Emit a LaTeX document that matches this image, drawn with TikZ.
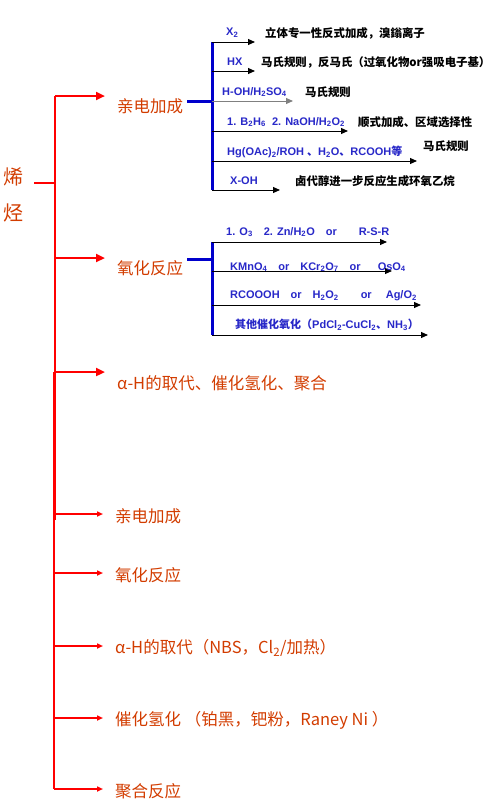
\documentclass[tikz,border=0pt]{standalone}
\usepackage{fontspec}
\setmainfont{Liberation Sans}
\newfontfamily\cjk{Noto Sans CJK SC}
\usetikzlibrary{arrows.meta}
\definecolor{alkred}{RGB}{255,0,0}
\definecolor{alkorange}{RGB}{210,60,0}
\definecolor{alkblue}{RGB}{0,0,204}
\definecolor{reagblue}{RGB}{40,40,200}

\begin{document}
\begin{tikzpicture}[x=1pt,y=-1pt,
  redline/.style={draw=alkred,line width=2.5pt},
  redthin/.style={draw=alkred,line width=1.5pt},
  redarrow/.style={redline,-{Triangle[length=9pt,width=8pt]}},
  redthinarrow/.style={redthin,-{Triangle[length=6pt,width=5pt]}},
  bluebar/.style={draw=alkblue,line width=3pt},
  reagarrow/.style={draw=black,line width=1pt,-{Triangle[length=7pt,width=6pt]}},
  titlelab/.style={inner sep=0pt,text=alkorange,font=\cjk\fontsize{20}{22}\selectfont},
  mainlab/.style={anchor=west,inner sep=0pt,text=alkorange,font=\cjk\fontsize{16.5}{18}\selectfont},
  reaglab/.style={anchor=west,inner sep=0pt,text=reagblue,font=\bfseries\fontsize{11}{13}\selectfont},
  notelab/.style={anchor=west,inner sep=0pt,font=\cjk\bfseries\fontsize{11.4}{13}\selectfont}]
  \useasboundingbox (0,0) rectangle (496,803);

  % root
  \node[titlelab] (xi) at (14,177) {烯};
  \node[titlelab] (ting) at (14,213) {烃};
  \coordinate (rootL) at (34,183);
  \coordinate (rootR) at (55,183);
  \draw[redline] (rootL) -- (rootR);

  % trunk
  \coordinate (trunkTop) at (55,96);
  \coordinate (trunkMid) at (55,520);
  \coordinate (trunkSplit) at (54,372);
  \coordinate (trunkBot) at (54,789);
  \draw[redline] (trunkTop) -- (trunkMid);
  \draw[redthin] (trunkSplit) -- (trunkBot);

  % upper branches
  \coordinate (tipA) at (105,96);
  \coordinate (tipB) at (105,258);
  \coordinate (tipC) at (105,372);
  \draw[redarrow] (trunkTop) -- (tipA);
  \draw[redarrow] (55,258) coordinate (forkB) -- (tipB);
  \draw[redarrow] (55,372) coordinate (forkC) -- (tipC);
  \node[mainlab] (addn) at (117,106) {亲电加成};
  \node[mainlab] (oxid) at (117,268) {氧化反应};
  \node[mainlab] (misc) at (117,383) {α-H的取代、催化氢化、聚合};

  % lower branches
  \foreach \y/\name/\txt in {514/addtwo/{亲电加成},573/oxtwo/{氧化反应},
      646/subst/{α-H的取代（NBS，Cl\textsubscript{2}/加热）},
      718/hydro/{催化氢化 （铂黑，钯粉，Raney Ni ）},789/poly/{聚合反应}}{
    \coordinate (fork-\name) at (54,\y);
    \coordinate (tip-\name) at (103,\y);
    \draw[redthinarrow] (fork-\name) -- (tip-\name);
    \node[mainlab] (\name) at (115,\y+2) {\txt};
  }

  % electrophilic addition
  \coordinate (addIn) at (187,101);
  \coordinate (addBar) at (212,101);
  \coordinate (addTop) at (212,42);
  \coordinate (addBot) at (212,190);
  \draw[bluebar] (addIn) -- (addBar);
  \draw[bluebar] (addTop) -- (addBot);
  \coordinate (aOne) at (255,42);
  \coordinate (aTwo) at (255,71);
  \coordinate (aThree) at (293,101);
  \coordinate (aFour) at (348,131);
  \coordinate (aFive) at (417,161);
  \coordinate (aSix) at (280,190);
  \draw[reagarrow] (addTop) -- (aOne);
  \draw[reagarrow] (212,71) -- (aTwo);
  \draw[reagarrow,draw=gray] (addBar) -- (aThree);
  \draw[reagarrow] (212,131) -- (aFour);
  \draw[reagarrow] (212,161) -- (aFive);
  \draw[reagarrow] (addBot) -- (aSix);
  \node[reaglab] (xtwo) at (226,33) {X\textsubscript{2}};
  \node[reaglab] (hx) at (227,62) {HX};
  \node[reaglab] (hoh) at (222,92) {H-OH/H\textsubscript{2}SO\textsubscript{4}};
  \node[reaglab] (borane) at (227,122) {1. B\textsubscript{2}H\textsubscript{6}\ \ 2. NaOH/H\textsubscript{2}O\textsubscript{2}};
  \node[reaglab] (mercury) at (227,152) {Hg(OAc)\textsubscript{2}/ROH {\cjk 、}H\textsubscript{2}O{\cjk 、}RCOOH{\cjk 等}};
  \node[reaglab] (xoh) at (230,181) {X-OH};
  \node[notelab] (noteOne) at (265,33) {立体专一性反式加成，溴鎓离子};
  \node[notelab] (noteTwo) at (261,62) {马氏规则，反马氏（过氧化物or强吸电子基）};
  \node[notelab] (noteThree) at (305,92) {马氏规则};
  \node[notelab] (noteFour) at (358,122) {顺式加成、区域选择性};
  \node[notelab] (noteFive) at (423,146) {马氏规则};
  \node[notelab] (noteSix) at (295,181) {卤代醇进一步反应生成环氧乙烷};

  % oxidation
  \coordinate (oxIn) at (187,259);
  \coordinate (oxBar) at (212,259);
  \coordinate (oxTop) at (212,242);
  \coordinate (oxBot) at (212,335);
  \draw[bluebar] (oxIn) -- (oxBar);
  \draw[bluebar] (oxTop) -- (oxBot);
  \coordinate (oOne) at (387,242);
  \coordinate (oTwo) at (392,271);
  \coordinate (oThree) at (421,305);
  \coordinate (oFour) at (428,335);
  \draw[reagarrow] (oxTop) -- (oOne);
  \draw[reagarrow] (212,271) -- (oTwo);
  \draw[reagarrow] (212,305) -- (oThree);
  \draw[reagarrow] (oxBot) -- (oFour);
  \node[reaglab] (ozone) at (226,232) {1. O\textsubscript{3}\quad 2. Zn/H\textsubscript{2}O\quad or\qquad R-S-R};
  \node[reaglab] (perm) at (230,267) {KMnO\textsubscript{4}\quad or\quad KCr\textsubscript{2}O\textsubscript{7}\quad or\quad\ \ OsO\textsubscript{4}};
  \node[reaglab] (peracid) at (230,296) {RCOOOH\quad or\quad H\textsubscript{2}O\textsubscript{2}\qquad or\quad\ Ag/O\textsubscript{2}};
  \node[reaglab] (wacker) at (235,325) {{\cjk 其他催化氧化（}PdCl\textsubscript{2}-CuCl\textsubscript{2}{\cjk 、}NH\textsubscript{3}{\cjk ）}};
\end{tikzpicture}
\end{document}
